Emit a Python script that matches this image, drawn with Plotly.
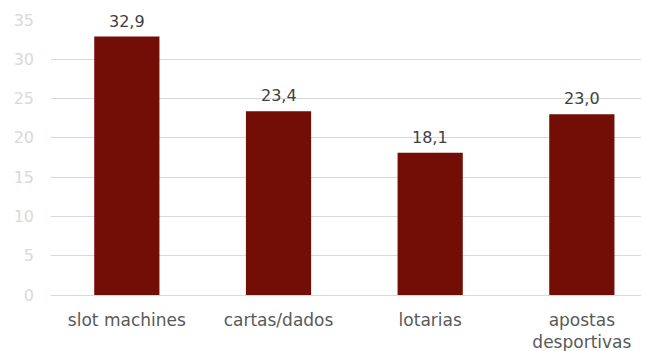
import plotly.graph_objects as go

categories = ["slot machines", "cartas/dados", "lotarias", "apostas<br>desportivas"]
values = [32.9, 23.4, 18.1, 23.0]
value_labels = ["32,9", "23,4", "18,1", "23,0"]
y_ticks = [0, 5, 10, 15, 20, 25, 30, 35]

FONT = "'DejaVu Sans', sans-serif"

fig = go.Figure(
    go.Bar(
        x=categories,
        y=values,
        marker=dict(color="#730E06", line=dict(width=0)),
        width=0.43,
        hoverinfo="x+y",
    )
)

for c, v, t in zip(categories, values, value_labels):
    fig.add_annotation(
        x=c, y=v, text=t, showarrow=False,
        yanchor="bottom", yshift=4,
        font=dict(family=FONT, size=16, color="#404040"),
    )

fig.update_layout(
    width=646,
    height=351,
    margin=dict(l=51, r=5, t=20, b=56),
    paper_bgcolor="white",
    plot_bgcolor="white",
    separators=",.",
    showlegend=False,
)

fig.update_xaxes(
    range=[-0.5, 3.39],
    automargin=False,
    showgrid=False,
    showline=False,
    zeroline=False,
    ticks="",
    tickfont=dict(family=FONT, size=17, color="#595959"),
    ticklabelstandoff=13,
)

fig.update_yaxes(
    range=[0, 35],
    automargin=False,
    tickvals=y_ticks,
    showgrid=True,
    gridcolor="#D9D9D9",
    gridwidth=1,
    zeroline=True,
    zerolinecolor="#D9D9D9",
    zerolinewidth=1,
    showline=False,
    ticks="",
    tickfont=dict(family=FONT, size=16, color="#D9D9D9"),
    ticklabelstandoff=16,
)

fig.write_html(
    "out.html",
    config={"displayModeBar": False},
    post_script="document.body.style.margin='0';",
)
